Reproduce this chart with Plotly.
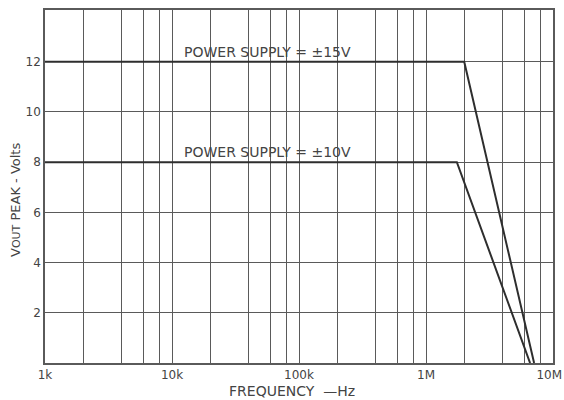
import plotly.graph_objects as go
import numpy as np

# Data
freq_15v = [1e3, 2.0e6, 7.1e6]
vout_15v = [12, 12, 0]
freq_10v = [1e3, 1.75e6, 6.6e6]
vout_10v = [8, 8, 0]

x_tick_vals = [1e3, 1e4, 1e5, 1e6, 1e7]
x_tick_text = ["1k", "10k", "100k", "1M", "10M\u00a0\u00a0"]
y_tick_vals = [2, 4, 6, 8, 10, 12]
x_minor = [m * d for d in [1e3, 1e4, 1e5, 1e6] for m in (2, 4, 6, 8)]

grid_col = "#5a5a5a"
line_col = "#2e2e2e"
text_col = "#444444"
font_fam = "DejaVu Sans, Liberation Sans, Arial, sans-serif"

fig = go.Figure()
fig.add_trace(go.Scatter(x=freq_15v, y=vout_15v, mode="lines",
                         line=dict(color=line_col, width=2), showlegend=False))
fig.add_trace(go.Scatter(x=freq_10v, y=vout_10v, mode="lines",
                         line=dict(color=line_col, width=2), showlegend=False))

fig.update_xaxes(type="log", range=[3, 7], tickvals=x_tick_vals, ticktext=x_tick_text,
                 showgrid=True, gridcolor=grid_col, gridwidth=1,
                 minor=dict(tickvals=x_minor, showgrid=True, gridcolor=grid_col, gridwidth=1, ticks=""),
                 showline=True, linecolor=grid_col, linewidth=1.5, mirror=True,
                 ticks="", tickfont=dict(size=12, color=text_col, family=font_fam),
                 ticklabeloverflow="allow",
                 zeroline=False, automargin=False)
fig.update_yaxes(range=[0, 14.06], tickvals=y_tick_vals,
                 showgrid=True, gridcolor=grid_col, gridwidth=1,
                 showline=True, linecolor=grid_col, linewidth=1.5, mirror=True,
                 ticks="", tickfont=dict(size=12, color=text_col, family=font_fam),
                 zeroline=False, automargin=False)

pw = 564 - 45 - 11
ph = 400 - 10 - 37

fig.add_annotation(x=np.log10(1.2e4), y=12, xref="x", yref="y", text="POWER SUPPLY = ±15V",
                   showarrow=False, xanchor="left", yanchor="bottom", yshift=0,
                   font=dict(size=14, color=text_col, family=font_fam))
fig.add_annotation(x=np.log10(1.2e4), y=8, xref="x", yref="y", text="POWER SUPPLY = ±10V",
                   showarrow=False, xanchor="left", yanchor="bottom", yshift=0,
                   font=dict(size=14, color=text_col, family=font_fam))
fig.add_annotation(x=(292 - 45) / pw, y=-(391 - 363) / ph, xref="paper", yref="paper",
                   text="FREQUENCY  —Hz", showarrow=False, xanchor="center", yanchor="middle",
                   font=dict(size=14, color=text_col, family=font_fam))
fig.add_annotation(text="V<span style='font-size:11px'>OUT</span> PEAK - Volts",
                   xref="paper", yref="paper", x=-(45 - 16) / pw, y=(363 - 200) / ph,
                   xanchor="center", yanchor="middle", showarrow=False,
                   textangle=-90, font=dict(size=13, color=text_col, family=font_fam))

fig.update_layout(width=564, height=400, margin=dict(l=45, r=11, t=10, b=37, autoexpand=False),
                  paper_bgcolor="white", plot_bgcolor="white")

fig.write_html("out.html", config={"displayModeBar": False},
               post_script="document.body.style.margin='0';")
